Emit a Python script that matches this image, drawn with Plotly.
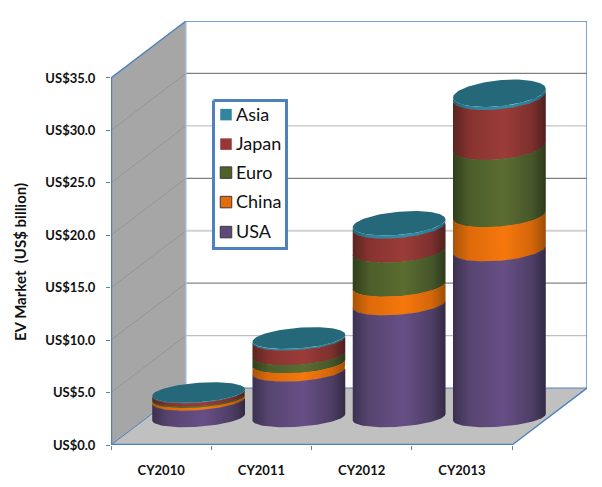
import numpy as np
import plotly.graph_objects as go

# Market size by region, US$ billion
years = ["CY2010", "CY2011", "CY2012", "CY2013"]
usa = [1.6, 4.4, 10.8, 16.0]
china = [0.25, 0.8, 1.8, 3.3]
euro = [0.15, 0.8, 3.3, 6.5]
japan = [0.3, 1.4, 2.3, 4.8]
asia = [0.06, 0.15, 0.3, 0.3]
y_ticks = [0, 5, 10, 15, 20, 25, 30, 35]
y_labels = ["US$0.0", "US$5.0", "US$10.0", "US$15.0", "US$20.0", "US$25.0", "US$30.0", "US$35.0"]

series = [("USA", usa), ("China", china), ("Euro", euro), ("Japan", japan), ("Asia", asia)]

# Horizontal shading of each cylinder band: edge, shoulder, highlight, shoulder, edge
shades = {
    "USA": ["#3C3150", "#574570", "#674F86", "#4E3E66", "#342A44"],
    "China": ["#A85408", "#DE6A0A", "#F6780C", "#D4660A", "#9C4E08"],
    "Euro": ["#2F3F1C", "#4C5E2A", "#5B6D31", "#46562A", "#2E3A1B"],
    "Japan": ["#5A2521", "#88332F", "#9B3C39", "#7D302D", "#4F201F"],
    "Asia": ["#1E6275", "#2A83A0", "#2F8EA9", "#2A7F99", "#1E6275"],
}
key_colors = {"Asia": "#31859C", "Japan": "#953735", "Euro": "#4F6228", "China": "#E46C0A", "USA": "#5F497A"}
top_color = "#25687A"

# Plot box and oblique projection of the depth axis
width, height = 602, 487
left, right, top, bottom = 111, 587, 21, 445
x_unit = 100.25  # pixels per category
y_unit = 10.49   # pixels per US$ billion
depth_x = 75 / x_unit
depth_y = 57 / y_unit
n_cat = len(years)
y_max = 35.0


def px_x(p):
    return (p - left) / x_unit


def px_y(p):
    return (bottom - p) / y_unit


BLUE = "#4F81BD"
PALE_BLUE = "#A9C4E3"
grid_levels = [5, 10, 15, 20, 25, 30]
grid_colors = ["#BFBFBF", "#A8A8A8", "#D2D2D2", "#808080", "#C4C4C4", "#808080"]
grid_widths = [1.2, 1.6, 2, 1.2, 1.2, 1.2]

fig = go.Figure()


def poly(xs, ys, fill=None, line=None, lw=0, gradient=None):
    kw = dict(x=list(xs), y=list(ys), mode="lines", showlegend=False, hoverinfo="skip", cliponaxis=False)
    kw["line"] = dict(color=line or "rgba(0,0,0,0)", width=lw)
    if fill or gradient:
        kw["fill"] = "toself"
    if fill:
        kw["fillcolor"] = fill
    if gradient:
        kw["fillgradient"] = gradient
    fig.add_trace(go.Scatter(**kw))


# Floor and side wall
poly([0, n_cat, n_cat + depth_x, depth_x, 0], [0, 0, depth_y, depth_y, 0], fill="#C0C0C0")
poly([0, depth_x, depth_x, 0, 0], [0, depth_y, depth_y + y_max, y_max, 0], fill="#A6A6A6")

# Gridlines across the side wall and the back wall
for lev, col, w in zip(grid_levels, grid_colors, grid_widths):
    poly([0, depth_x], [lev, lev + depth_y], line="#8C8C8C", lw=0.7)
    poly([depth_x, n_cat + depth_x], [lev + depth_y] * 2, line=col, lw=w)

# Frame of the chart box
poly([depth_x, depth_x], [depth_y, depth_y + y_max], line=PALE_BLUE, lw=1.2)
poly([depth_x, n_cat + depth_x], [depth_y, depth_y], line=BLUE, lw=1)
poly([0, depth_x], [0, depth_y], line=BLUE, lw=1)
poly([n_cat + depth_x, n_cat + depth_x, depth_x, 0, 0, n_cat, n_cat + depth_x],
     [depth_y, depth_y + y_max, depth_y + y_max, y_max, 0, 0, depth_y], line=BLUE, lw=1.4)
poly([0, n_cat], [0, 0], line=BLUE, lw=2.4)
poly([0, 0], [0, y_max], line=BLUE, lw=2.4)

# Legend frame
kx0, kx1, ky0, ky1 = px_x(213.5), px_x(286.5), px_y(100.5), px_y(248.5)
poly([kx0, kx1, kx1, kx0, kx0], [ky0, ky0, ky1, ky1, ky0], fill="#FFFFFF", line=BLUE, lw=3)

# Cylinders, one per category, standing halfway into the depth of the floor
radius_x = 46.4 / x_unit
tilt = 0.32
base_level = depth_y / 2 - 0.07
t = np.linspace(np.pi, 2 * np.pi, 60)
ring = np.linspace(0, 2 * np.pi, 121)
phi = np.arcsin(tilt)


def semi_y(v):
    return (10 + 0.12 * v) / y_unit


def edge(cx, v, angles):
    xs = cx + radius_x * np.cos(angles)
    ys = base_level + v + semi_y(v) * np.sin(angles + phi)
    return xs, ys


stops = [0, 0.18, 0.55, 0.85, 1]
for i in range(n_cat):
    cx = i + 0.5 + depth_x / 2
    levels = np.cumsum([vals[i] for _, vals in series])
    floors = np.r_[0, np.maximum(levels[:-1] - 0.05, 0)]
    # Tallest band first; each lower band then paints over the small overlap at its boundary
    for (name, _), lev, low in reversed(list(zip(series, levels, floors))):
        ux, uy = edge(cx, lev, t)
        bx, by = edge(cx, low, t)
        gradient = dict(type="horizontal", colorscale=list(zip(stops, shades[name])))
        poly(np.r_[ux, bx[::-1], ux[0]], np.r_[uy, by[::-1], uy[0]], gradient=gradient)
    rx, ry = edge(cx, levels[-1], ring)
    poly(rx, ry, fill=top_color)

# Legend entries
entry_px = [114.5, 144, 172.5, 202, 232]
for (name, _), py in zip(reversed(series), entry_px):
    marker = dict(symbol="square", size=11.5, color=key_colors[name], line=dict(width=0))
    if name in ("Euro", "China", "USA"):
        marker["line"] = dict(width=1, color="#3A3A3A")
    fig.add_trace(go.Scatter(
        x=[px_x(226)], y=[px_y(py)], mode="markers", name=name,
        marker=marker, showlegend=False, hoverinfo="skip", cliponaxis=False,
    ))
    fig.add_trace(go.Scatter(
        x=[px_x(236)], y=[px_y(py + 1.5)], mode="text", name=name, text=[name],
        textposition="middle right", textfont=dict(family="Lato", size=18, color="#111111"),
        showlegend=False, hoverinfo="skip", cliponaxis=False,
    ))

fig.update_layout(
    width=width, height=height,
    margin=dict(l=left, r=width - right, t=top, b=height - bottom, autoexpand=False),
    paper_bgcolor="#FFFFFF", plot_bgcolor="#FFFFFF",
    showlegend=False,
    font=dict(family="Lato", color="#111111"),
    annotations=[dict(
        text="<b>EV Market  (US$ billion)</b>", textangle=-90, showarrow=False,
        xref="paper", yref="paper",
        x=(20 - left) / (right - left), y=(bottom - 262) / (bottom - top),
        xanchor="center", yanchor="middle",
        font=dict(family="Lato", size=15, color="#111111"),
    )],
)
fig.update_xaxes(
    range=[0, n_cat + depth_x], showgrid=False, zeroline=False, showline=False,
    tickmode="array", tickvals=[i + 0.5 for i in range(n_cat)], ticktext=years, ticks="",
    tickfont=dict(family="Lato", size=13, weight="bold", color="#111111"), ticklabelstandoff=16,
    minor=dict(tickmode="array", tickvals=list(range(n_cat + 1)), ticks="outside", ticklen=4,
               tickcolor="#808080", tickwidth=1, showgrid=False),
)
fig.update_yaxes(
    range=[0, y_max + depth_y], showgrid=False, zeroline=False, showline=False,
    tickmode="array", tickvals=y_ticks, ticktext=y_labels,
    ticks="outside", ticklen=4, tickcolor=BLUE, tickwidth=1,
    tickfont=dict(family="Lato", size=13, weight="bold", color="#111111"), ticklabelstandoff=8,
)

fig.write_html("out.html")
